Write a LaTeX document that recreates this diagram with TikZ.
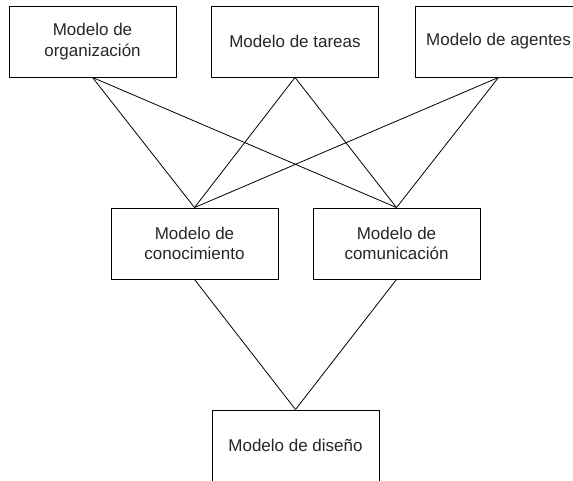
\documentclass[tikz,border=0pt]{standalone}
\usepackage{fontspec}
\setmainfont{Liberation Sans}
\begin{document}
\begin{tikzpicture}[x=1pt,y=-1pt,
  box/.style={draw, line width=0.9pt, minimum width=167pt, minimum height=71pt, inner sep=0pt, align=center, font=\fontsize{17}{20.5}\selectfont, text=black!85},
  link/.style={draw, line width=0.8pt}]
\useasboundingbox (0,0) rectangle (573,481);
\clip (0,0) rectangle (573,481);
\node[box] (org) at (92.5,41.5) {Modelo de\\organización};
\node[box] (tar) at (295,41.5) {Modelo de tareas};
\node[box] (age) at (498.5,41.5) {Modelo de agentes};
\node[box] (con) at (194.5,243.5) {Modelo de\\conocimiento};
\node[box] (com) at (396.5,243.5) {Modelo de\\comunicación};
\node[box] (dis) at (295.5,445.5) {Modelo de diseño};
\foreach \a in {org,tar,age}{
  \foreach \b in {con,com}{
    \path[link] (\a.south) -- (\b.north);
  }
}
\path[link] (con.south) -- (dis.north);
\path[link] (com.south) -- (dis.north);
\end{tikzpicture}
\end{document}
